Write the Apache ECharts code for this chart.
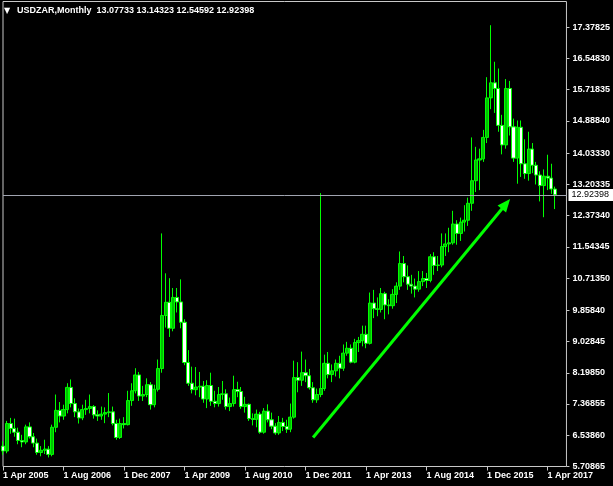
<!DOCTYPE html>
<html>
<head>
<meta charset="utf-8">
<script src="https://cdn.jsdelivr.net/npm/echarts@6/dist/echarts.min.js"></script>
<style>
html,body{margin:0;padding:0;background:#000;}
#chart{width:613px;height:486px;}
</style>
</head>
<body>
<div id="chart"></div>
<script>
// ---------- DATA ----------
const symbolName = 'USDZAR';
const timeframe = 'Monthly';
const startYear = 2005;
const startMonth = 3;          // April (0-based)
const padMonths = 3;           // empty slots to the right of the last bar
const monthNames = ['Jan','Feb','Mar','Apr','May','Jun','Jul','Aug','Sep','Oct','Nov','Dec'];

// Monthly OHLC, Apr 2005 .. Jun 2017
const opens = [
 6.25,6.12,6.85,6.72,6.62,6.40,6.36,6.76,6.50,
 6.33,6.08,6.14,6.17,6.03,6.75,7.20,7.05,7.22,7.81,7.38,7.16,
 7.00,7.22,7.25,7.30,7.08,7.05,7.10,7.14,7.16,6.85,6.48,6.85,
 6.82,7.46,7.72,8.14,7.58,7.62,7.88,7.35,7.76,8.31,9.72,10.07,
 9.38,10.20,10.08,9.54,8.47,7.92,7.75,7.82,7.84,7.50,7.86,7.44,
 7.38,7.62,7.64,7.30,7.38,7.75,7.70,7.30,7.36,6.98,6.96,7.10,
 6.62,7.18,6.95,6.78,6.60,6.88,6.77,6.70,7.02,8.07,8.00,8.20,
 8.12,7.80,7.48,7.62,7.78,8.45,8.15,8.25,8.45,8.32,8.72,8.85,
 8.48,9.00,9.05,9.22,8.98,10.05,9.90,9.88,10.30,10.00,9.98,10.28,
 10.50,11.10,10.75,10.55,10.50,10.42,10.62,10.70,10.65,11.28,11.05,11.06,
 11.55,11.62,11.65,12.15,11.90,12.20,12.25,12.70,13.30,13.85,13.88,14.45,
 15.50,15.90,15.75,14.77,14.25,15.75,14.73,13.90,14.72,13.75,13.49,14.14,
 13.71,13.45,13.17,13.42,13.37,13.07733
];
const closes = [
 6.12,6.85,6.72,6.62,6.40,6.36,6.76,6.50,6.33,
 6.08,6.14,6.17,6.03,6.75,7.20,7.05,7.22,7.81,7.38,7.16,7.00,
 7.22,7.25,7.30,7.08,7.05,7.10,7.14,7.16,6.85,6.48,6.85,6.82,
 7.46,7.72,8.14,7.58,7.62,7.88,7.35,7.76,8.31,9.72,10.07,9.38,
 10.20,10.08,9.54,8.47,7.92,7.75,7.82,7.84,7.50,7.86,7.44,7.38,
 7.62,7.64,7.30,7.38,7.75,7.70,7.30,7.36,6.98,6.96,7.10,6.62,
 7.18,6.95,6.78,6.60,6.88,6.77,6.70,7.02,8.07,8.00,8.20,8.12,
 7.80,7.48,7.62,7.78,8.45,8.15,8.25,8.45,8.32,8.72,8.85,8.48,
 9.00,9.05,9.22,8.98,10.05,9.90,9.88,10.30,10.00,9.98,10.28,10.50,
 11.10,10.75,10.55,10.50,10.42,10.62,10.70,10.65,11.28,11.05,11.06,11.55,
 11.62,11.65,12.15,11.90,12.20,12.25,12.70,13.30,13.85,13.88,14.45,15.50,
 15.90,15.75,14.77,14.25,15.75,14.73,13.90,14.72,13.75,13.49,14.14,13.71,
 13.45,13.17,13.42,13.37,13.08,12.92398
];
const lows = [
 6.02,6.06,6.58,6.50,6.30,6.22,6.30,6.45,6.22,
 6.02,5.98,6.04,5.95,5.98,6.62,6.88,6.95,7.12,7.28,7.02,6.85,
 6.94,7.08,7.12,6.98,6.92,6.95,6.86,7.02,6.80,6.42,6.44,6.72,
 6.80,7.32,7.65,7.45,7.45,7.55,7.22,7.28,7.70,8.20,9.40,9.15,
 9.30,9.80,9.38,8.40,7.85,7.65,7.60,7.55,7.40,7.26,7.32,7.28,
 7.30,7.48,7.22,7.18,7.30,7.55,7.24,7.14,6.92,6.80,6.75,6.58,
 6.58,6.88,6.70,6.55,6.55,6.65,6.60,6.62,6.98,7.68,7.85,7.95,
 7.75,7.40,7.40,7.55,7.72,8.05,7.95,8.10,8.05,8.25,8.65,8.45,
 8.45,8.75,8.90,8.85,8.95,9.65,9.70,9.80,9.62,9.75,9.90,10.05,
 10.40,10.60,10.40,10.30,10.20,10.35,10.50,10.45,10.60,10.80,10.90,11.00,
 11.30,11.40,11.60,11.60,11.70,11.95,12.10,12.50,13.00,13.05,13.80,14.30,
 15.20,15.10,14.60,14.00,14.15,14.50,13.80,13.22,13.40,13.35,13.30,13.50,
 13.20,12.75,12.33,13.05,12.95,12.54592
];
const highs = [
 6.38,6.92,7.00,6.98,6.74,6.55,6.82,6.88,6.60,
 6.45,6.25,6.42,6.25,6.82,7.62,7.42,7.35,7.92,8.02,7.52,7.25,
 7.35,7.48,7.62,7.34,7.20,7.30,7.28,7.66,7.30,6.95,6.98,7.02,
 7.72,7.92,8.32,8.22,7.85,8.05,7.95,7.88,8.55,11.90,10.84,10.71,
 10.45,10.45,10.68,9.62,8.80,8.36,8.35,8.22,7.98,8.00,8.20,7.72,
 7.82,7.98,7.76,7.54,8.12,7.96,7.82,7.56,7.38,7.12,7.22,7.16,
 7.26,7.36,7.14,6.86,7.05,7.00,6.95,7.38,8.52,8.48,8.76,8.55,
 8.30,7.95,7.78,12.97,8.68,8.75,8.42,8.55,8.65,8.95,9.02,8.95,
 9.10,9.15,9.45,9.45,10.33,10.40,10.20,10.45,10.35,10.15,10.42,10.60,
 11.42,11.30,11.05,10.80,10.70,10.90,10.90,10.85,11.35,11.40,11.30,11.90,
 11.90,12.05,12.50,12.25,12.32,12.65,12.85,14.45,14.20,14.15,14.65,16.05,
 17.43,16.46,16.28,15.05,16.00,15.95,14.95,14.90,14.90,14.40,14.60,14.30,
 13.80,13.55,13.60,13.99,13.75,13.14323
];

// right price scale tick labels
const yTickLabels = [5.70865,6.53860,7.36855,8.19850,9.02845,9.85840,10.71350,11.54345,
                     12.37340,13.20335,14.03330,14.88840,15.71835,16.54830,17.37825];
const yMin = 5.70865, yMax = 18.06;
const xLabelEvery = 16;                       // one date label every 16 months
const priceLine = 12.92398;                   // current bid line
const trendArrow = [[82, 6.48], [133, 12.68]]; // annotation arrow, [month index, price]

// ---------- BUILD ----------
const categories = [];
for (let i = 0; i < opens.length + padMonths; i++) {
  const m = (startMonth + i) % 12;
  const y = startYear + Math.floor((startMonth + i) / 12);
  categories.push('1 ' + monthNames[m] + ' ' + y);
}
const candles = categories.map((c, i) =>
  i < opens.length ? [opens[i], closes[i], lows[i], highs[i]] : '-');

const last = opens.length - 1;
const titleText = '{t|▼}' + symbolName + ',' + timeframe + '  ' +
  [opens[last], highs[last], lows[last], closes[last]].map(v => v.toFixed(5)).join(' ');

const FONT = 'Liberation Sans, Arial, sans-serif';
const chart = echarts.init(document.getElementById('chart'), null, {renderer: 'canvas'});
chart.setOption({
  animation: false,
  backgroundColor: '#000',
  title: {
    text: titleText, left: 4, top: 6, padding: 0,
    textStyle: {
      color: '#fff', fontSize: 9, fontWeight: 'bold', fontFamily: FONT,
      rich: {t: {width: 13, fontSize: 8, color: '#fff', fontFamily: 'DejaVu Sans'}}
    }
  },
  grid: {
    left: 2.5, right: 44.5, top: 1.5, bottom: 19.5,
    show: true, borderColor: '#c8c8c8', borderWidth: 1, backgroundColor: '#000'
  },
  xAxis: {
    type: 'category', data: categories, boundaryGap: false,
    axisLine: {show: false},
    axisTick: {show: true, length: 4, interval: (i) => i % xLabelEvery === 0,
               lineStyle: {color: '#c8c8c8'}},
    axisLabel: {interval: (i) => i % xLabelEvery === 0, color: '#fff', fontSize: 9,
                fontWeight: 'bold', fontFamily: FONT, align: 'left', margin: 5},
    splitLine: {show: false}
  },
  yAxis: {
    type: 'value', position: 'right', min: yMin, max: yMax,
    axisLine: {show: false},
    splitLine: {show: false},
    axisTick: {show: true, length: 3, lineStyle: {color: '#c8c8c8'}, customValues: yTickLabels},
    axisLabel: {color: '#fff', fontSize: 9, fontWeight: 'bold', fontFamily: FONT, margin: 6,
                customValues: yTickLabels, formatter: (v) => v.toFixed(5)}
  },
  series: [{
    type: 'candlestick',
    data: candles,
    barWidth: 3.6,
    clip: true,
    itemStyle: {
      color: '#00c000', borderColor: '#00ff00',
      color0: '#ffffff', borderColor0: '#00ff00',
      borderWidth: 1
    },
    markLine: {
      silent: true, animation: false, symbol: 'none',
      data: [
        {yAxis: priceLine,
         lineStyle: {color: '#a0a4b0', width: 1, type: 'solid'},
         label: {show: true, position: 'end', formatter: priceLine.toFixed(5),
                 color: '#000', backgroundColor: '#fff', fontSize: 9, fontFamily: FONT,
                 padding: [2, 4, 1, 3], distance: 2}},
        [{coord: trendArrow[0], symbol: 'none',
          lineStyle: {color: '#00ff00', width: 3, type: 'solid'}, label: {show: false}},
         {coord: trendArrow[1], symbol: 'triangle', symbolSize: [11, 13]}]
      ]
    }
  }]
});
</script>
</body>
</html>
